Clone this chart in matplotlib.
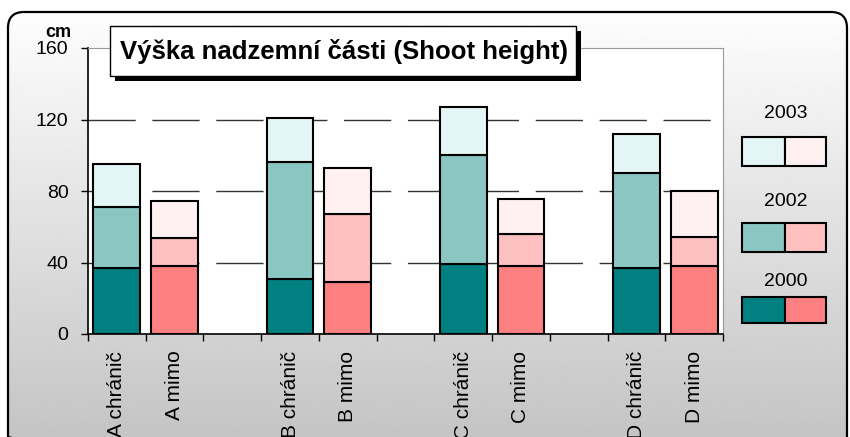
import numpy as np
import matplotlib
matplotlib.use("Agg")
import matplotlib.pyplot as plt
from matplotlib.patches import FancyBboxPatch, Rectangle

plt.rcParams['font.family'] = ['Liberation Sans', 'DejaVu Sans']

# data: shoot height (cm) reached in each year
sites = ['A', 'B', 'C', 'D']
years = ['2000', '2002', '2003']
chranic = {'2000': [37, 30.5, 39, 37],
           '2002': [71, 96.5, 100, 90],
           '2003': [95, 121, 127, 112]}
mimo = {'2000': [38, 29, 38, 38],
        '2002': [53.5, 67, 56, 54.5],
        '2003': [74.5, 93, 75.5, 80]}
labels = [s + ' chránič' for s in sites] + [s + ' mimo' for s in sites]
y_ticks = [0, 40, 80, 120, 160]

col_ch = {'2000': '#008080', '2002': '#8ac6c2', '2003': '#e3f5f5'}
col_mi = {'2000': '#ff8080', '2002': '#ffc0c0', '2003': '#fff1f1'}

W, H = 850, 437
fig = plt.figure(figsize=(W / 100, H / 100), dpi=100)

# background with rounded frame and grey gradient
bg = fig.add_axes([0, 0, 1, 1], zorder=-5)
bg.set_xlim(0, W)
bg.set_ylim(H, 0)
bg.axis('off')
grad = np.linspace(1.0, 0.77, 256).reshape(-1, 1)
im = bg.imshow(grad, cmap='gray', vmin=0, vmax=1, extent=[0, W, H, 0], aspect='auto')
frame = FancyBboxPatch((8, 12), 839, 440, boxstyle='round,pad=0,rounding_size=16',
                       facecolor='none', edgecolor='black', linewidth=1.6)
bg.add_patch(frame)
im.set_clip_path(frame)

# main plot area
ax = fig.add_axes([88 / W, (H - 334) / H, (723 - 88) / W, (334 - 48) / H])
ax.set_facecolor('white')

pos_ch = [g * 3 for g in range(len(sites))]
pos_mi = [g * 3 + 1 for g in range(len(sites))]
for data, pos, cols in [(chranic, pos_ch, col_ch), (mimo, pos_mi, col_mi)]:
    prev = np.zeros(len(sites))
    for y in years:
        vals = np.array(data[y])
        ax.bar(pos, vals - prev, bottom=prev, width=0.81, color=cols[y],
               edgecolor='black', linewidth=1.5, zorder=3)
        prev = vals

for v in y_ticks[1:-1]:
    ax.axhline(v, color='#333333', linewidth=1, dashes=(34, 12), zorder=1)

ax.set_xlim(-0.5, 10.5)
ax.set_ylim(0, 160)
ax.set_yticks(y_ticks)
ax.tick_params(axis='y', labelsize=14, length=5, width=1, pad=9)
ax.set_xticks(np.arange(-0.5, 11, 1))
ax.set_xticklabels([])
ax.tick_params(axis='x', which='major', length=5, width=1)
ax.set_xticks(pos_ch + pos_mi, minor=True)
ax.set_xticklabels(labels, minor=True, rotation=90, fontsize=15, va='top')
ax.tick_params(axis='x', which='minor', length=0, pad=12)
for s in ['top', 'right']:
    ax.spines[s].set_color('#999999')
for s in ['left', 'bottom']:
    ax.spines[s].set_linewidth(1.2)

# overlay: title box, unit, legend
ov = fig.add_axes([0, 0, 1, 1], zorder=5)
ov.set_xlim(0, W)
ov.set_ylim(H, 0)
ov.axis('off')
ov.add_patch(Rectangle((115, 31), 466, 50, facecolor='black', edgecolor='none'))
ov.add_patch(Rectangle((110, 26), 466, 50, facecolor='white', edgecolor='black', linewidth=1))
ov.text(344, 52, 'Výška nadzemní části (Shoot height)', fontsize=18.5, fontweight='bold',
        ha='center', va='center')
ov.text(71, 37, 'cm', fontsize=13, fontweight='bold', ha='right', va='baseline')

leg = [('2003', 113, 137, 29), ('2002', 202, 223, 29), ('2000', 282, 297, 26)]
for y, ty, by, bh in leg:
    ov.text(786, ty, y, fontsize=14, ha='center', va='center')
    ov.add_patch(Rectangle((742, by), 43, bh, facecolor=col_ch[y], edgecolor='black', linewidth=1.5))
    ov.add_patch(Rectangle((785, by), 41, bh, facecolor=col_mi[y], edgecolor='black', linewidth=1.5))

fig.savefig('out.png', dpi=100)
